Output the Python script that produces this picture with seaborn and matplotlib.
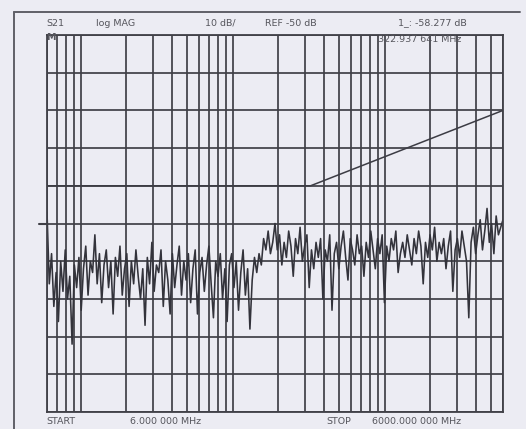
import numpy as np
import pandas as pd
import matplotlib
matplotlib.use("Agg")
import matplotlib.pyplot as plt
import seaborn as sns
from matplotlib.ticker import LogLocator, NullFormatter, NullLocator
from matplotlib.lines import Line2D

# sweep settings (log sweep, 201 points)
start_mhz = 6.0
stop_mhz = 6000.0
n_points = 201
ref_db = -50
db_per_div = 10

# S21 trace, dB, one value per sweep point
trace_db = [
    -47, -66, -58, -72, -63, -76, -60, -68, -57, -70, -64, -82, -61, -67, -59, -73, -62, -56, -69, -60,
    -63, -53, -66, -58, -71, -61, -57, -67, -60, -74, -59, -64, -56, -69, -62, -58, -72, -60, -66, -57,
    -64, -70, -62, -77, -59, -66, -55, -68, -61, -63, -57, -72, -60, -65, -74, -58, -67, -61, -56, -69,
    -60, -65, -58, -71, -62, -57, -74, -63, -59, -68, -61, -56, -66, -75, -60, -64, -58, -70, -62, -76,
    -61, -58, -67, -60, -73, -63, -57, -69, -62, -78, -65, -59, -63, -58, -61, -54, -57, -52, -58, -55,
    -50, -57, -53, -61, -55, -59, -52, -56, -64, -54, -58, -51, -60, -56, -53, -67, -57, -62, -55, -59,
    -54, -70, -57, -60, -53, -73, -58, -55, -62, -56, -52, -59, -65, -54, -57, -61, -53, -58, -56, -64,
    -55, -59, -52, -57, -62, -54, -58, -53, -71, -56, -60, -54, -57, -52, -63, -58, -55, -59, -53, -57,
    -61, -54, -58, -52, -56, -66, -55, -59, -53, -57, -51, -60, -55, -58, -54, -62, -56, -52, -68, -57,
    -54, -59, -52, -56, -60, -75, -55, -51, -58, -53, -49, -57, -52, -46, -55, -50, -58, -48, -53, -51,
    -49,
]

# limit line: flat, then rising toward the stop frequency
limit_mhz = [6.0, 325.0, 6000.0]
limit_db = [-40, -40, -20]

freq = np.geomspace(start_mhz, stop_mhz, n_points)
df = pd.DataFrame({"freq": freq, "db": trace_db})

bg = "#ececf3"
ink = "#404047"

sns.set_style("white", {"axes.facecolor": bg, "figure.facecolor": bg})
plt.rcParams["font.family"] = ["DejaVu Sans"]

fig = plt.figure(figsize=(5.26, 4.29), dpi=100)
ax = fig.add_axes([47 / 526, 1 - 412 / 429, (503 - 47) / 526, (412 - 35) / 429])

sns.lineplot(data=df, x="freq", y="db", ax=ax, color="#33333b", lw=1.15,
             estimator=None, sort=False)
ax.plot(limit_mhz, limit_db, color="#3c3c44", lw=1.1)

ax.set_xscale("log")
ax.set_xlim(start_mhz, stop_mhz)
top = ref_db + 5 * db_per_div
bottom = ref_db - 5 * db_per_div
ax.set_ylim(bottom, top)
ax.set_yticks(np.arange(bottom, top + 1, db_per_div))
ax.xaxis.set_major_locator(LogLocator(base=10, subs=np.arange(1, 10)))
ax.xaxis.set_minor_locator(NullLocator())
ax.xaxis.set_major_formatter(NullFormatter())
ax.grid(True, which="major", color=ink, lw=1.25)
ax.tick_params(length=0, labelleft=False, labelbottom=False)
ax.set_xlabel("")
ax.set_ylabel("")
for s in ax.spines.values():
    s.set_color(ink)
    s.set_linewidth(1.3)

# reference position marker on the left edge
ref_tf = ax.get_yaxis_transform()
ax.plot([-0.018, 0.0], [ref_db, ref_db], color=ink, lw=1.5,
        transform=ref_tf, clip_on=False)

# outer frame of the plotter sheet (left and top edges)
fig.add_artist(Line2D([14 / 526, 14 / 526], [0, 1 - 12 / 429], color="#606068", lw=1.4))
fig.add_artist(Line2D([14 / 526, 520 / 526], [1 - 12 / 429, 1 - 12 / 429], color="#606068", lw=1.4))

txt = dict(fontsize=6.8, color="#55555c")
fig.text(46 / 526, 1 - 23 / 429, "S21", va="center", **txt)
fig.text(46 / 526, 1 - 38 / 429, "M", va="center", fontweight="bold", **txt)
fig.text(96 / 526, 1 - 23 / 429, "log MAG", va="center", **txt)
fig.text(205 / 526, 1 - 23 / 429, "10 dB/", va="center", **txt)
fig.text(265 / 526, 1 - 23 / 429, "REF -50 dB", va="center", **txt)
fig.text(398 / 526, 1 - 23 / 429, "1_: -58.277 dB", va="center", **txt)
fig.text(378 / 526, 1 - 40 / 429, "322.937 641 MHz", va="center", **txt)
fig.text(46 / 526, 1 - 421 / 429, "START", va="center", **txt)
fig.text(130 / 526, 1 - 421 / 429, "6.000 000 MHz", va="center", **txt)
fig.text(326 / 526, 1 - 421 / 429, "STOP", va="center", **txt)
fig.text(372 / 526, 1 - 421 / 429, "6000.000 000 MHz", va="center", **txt)

fig.savefig("out.png", dpi=100, facecolor=bg)
